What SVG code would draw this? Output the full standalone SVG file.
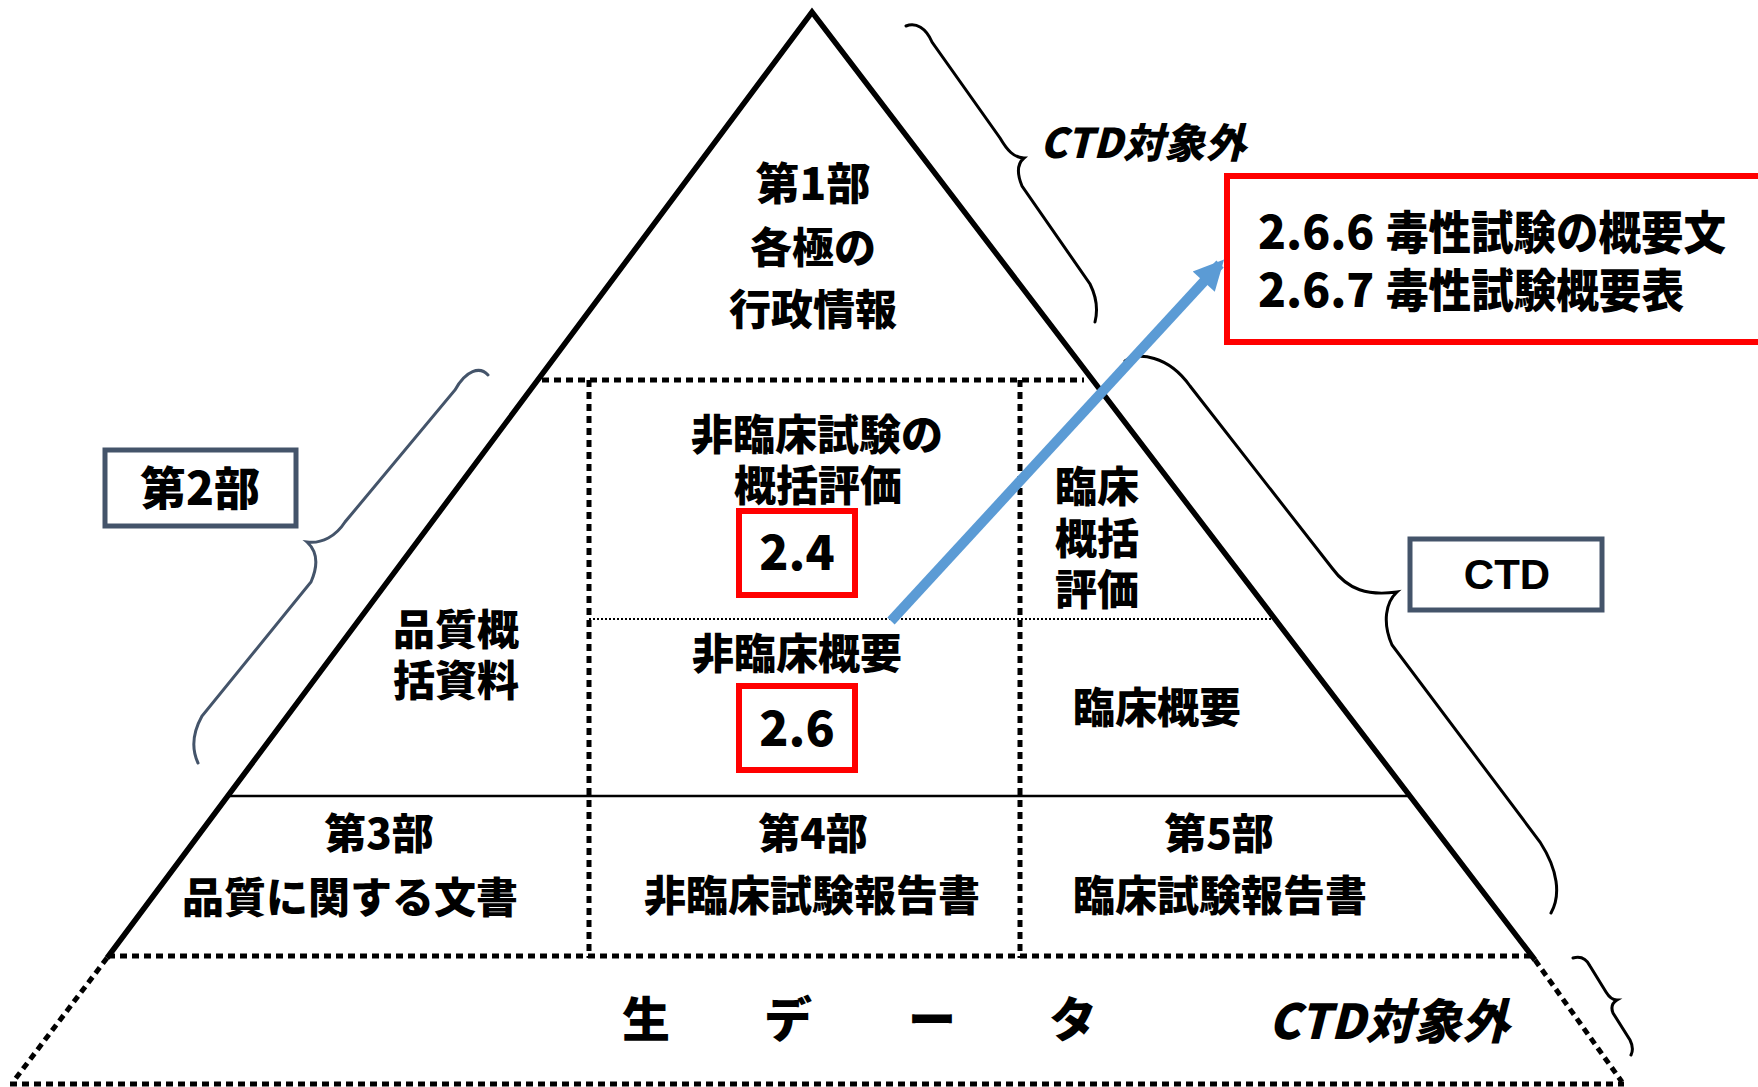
<svg xmlns="http://www.w3.org/2000/svg" width="1758" height="1087" viewBox="0 0 1758 1087">
<style>
.t{font-family:"Noto Sans CJK JP","Noto Sans CJK SC",sans-serif;font-weight:900;fill:#000;text-anchor:middle}
.f42{font-size:42px}
.it{font-style:italic}
.num{font-family:"Noto Sans CJK JP","Liberation Sans",sans-serif;font-weight:900;font-size:48px;text-anchor:middle}
.dot{stroke:#000;stroke-width:5;stroke-dasharray:7 5;fill:none}
.fine{stroke:#000;stroke-width:2;stroke-dasharray:2 2;fill:none}
.edge{stroke:#000;stroke-width:5.5;fill:none;stroke-linejoin:miter}
.brace{stroke:#000;stroke-width:3;fill:none;stroke-linecap:round}
.redbox{fill:none;stroke:#FF0000;stroke-width:6}
.slate{fill:#fff;stroke:#44546A;stroke-width:5}
</style>
<defs>
<marker id="ah" viewBox="0 0 10 10" refX="8" refY="5" markerWidth="3.2" markerHeight="3" orient="auto" markerUnits="strokeWidth">
<path d="M0 0 L10 5 L0 10 Z" fill="#5B9BD5"/>
</marker>
</defs>
<rect width="1758" height="1087" fill="#fff"/>

<g id="pyramid">
<path class="edge" d="M107 958 L812 12 L1535 960"/>
<line class="dot" x1="107" y1="958" x2="13" y2="1082"/>
<line class="dot" x1="1535" y1="960" x2="1622" y2="1082"/>
<line class="dot" x1="10" y1="1084" x2="1624" y2="1084"/>
<line class="dot" x1="108" y1="956" x2="1535" y2="956"/>
<line class="dot" x1="542" y1="380" x2="1084" y2="380"/>
<line class="dot" x1="589" y1="380" x2="589" y2="958"/>
<line class="dot" x1="1020" y1="380" x2="1020" y2="958"/>
<line class="fine" x1="589" y1="619" x2="1276" y2="619"/>
<line x1="230" y1="796" x2="1409" y2="796" stroke="#000" stroke-width="2.5"/>
</g>

<g id="part1">
<text class="t" x="813" y="200" font-size="44">第1部</text>
<text class="t f42" x="813" y="263">各極の</text>
<text class="t f42" x="813" y="325">行政情報</text>
</g>

<g id="part2-quality">
<text class="t f42" x="456" y="645">品質概</text>
<text class="t f42" x="456" y="696">括資料</text>
</g>

<g id="part2-nonclinical-overview">
<text class="t f42" x="817" y="450">非臨床試験の</text>
<text class="t f42" x="818" y="501">概括評価</text>
<rect class="redbox" x="739" y="511" width="116" height="84"/>
<text class="num" x="797" y="570">2.4</text>
</g>

<g id="part2-nonclinical-summary">
<text class="t f42" x="797" y="669">非臨床概要</text>
<rect class="redbox" x="739" y="686" width="116" height="84"/>
<text class="num" x="797" y="746">2.6</text>
</g>

<g id="part2-clinical-overview">
<text class="t f42" x="1097" y="502">臨床</text>
<text class="t f42" x="1097" y="554">概括</text>
<text class="t f42" x="1097" y="605">評価</text>
</g>

<g id="part2-clinical-summary">
<text class="t f42" x="1157" y="723">臨床概要</text>
</g>

<g id="part3">
<text class="t f42" x="379" y="849">第3部</text>
<text class="t f42" x="350" y="913">品質に関する文書</text>
</g>

<g id="part4">
<text class="t f42" x="813" y="849">第4部</text>
<text class="t f42" x="812" y="911">非臨床試験報告書</text>
</g>

<g id="part5">
<text class="t f42" x="1219" y="849">第5部</text>
<text class="t f42" x="1220" y="911">臨床試験報告書</text>
</g>

<g id="rawdata">
<text class="t" font-size="48" x="646" y="1037">生</text>
<text class="t" font-size="48" x="788" y="1037">デ</text>
<text class="t" font-size="48" x="932" y="1037">ー</text>
<text class="t" font-size="48" x="1073" y="1037">タ</text>
<text class="t it" font-size="48" x="1389" y="1039">CTD対象外</text>
</g>

<g id="label-part2">
<rect class="slate" x="105" y="450" width="191" height="76"/>
<text class="t" font-size="46" x="200" y="505">第2部</text>
</g>

<g id="label-ctd">
<rect class="slate" x="1410" y="539" width="192" height="71"/>
<text x="1507" y="589" font-family="Liberation Sans, Arial, sans-serif" font-weight="700" font-size="42" text-anchor="middle">CTD</text>
</g>

<g id="label-out-top">
<text class="t it" font-size="41" x="1143" y="158">CTD対象外</text>
</g>

<g id="callout">
<rect class="redbox" x="1227" y="176" width="540" height="166"/>
<text class="t" font-size="46" x="1258" y="249" style="text-anchor:start">2.6.6 <tspan x="1386" textLength="340" lengthAdjust="spacingAndGlyphs">毒性試験の概要文</tspan></text>
<text class="t" font-size="46" x="1258" y="307" style="text-anchor:start">2.6.7 <tspan x="1386" textLength="298" lengthAdjust="spacingAndGlyphs">毒性試験概要表</tspan></text>
</g>

<g id="connectors">
<path d="M488 375 C480 366 466 370 455 390 L345 522 C336 536 322 544 307 542 C318 552 318 566 311 582 L202 716 C192 734 192 750 198 763" stroke="#44546A" stroke-width="3" fill="none" stroke-linecap="round"/>
<path class="brace" d="M906 26 C916 22 926 28 932 42 L1000 138 C1007 150 1014 158 1024 158 C1017 164 1017 174 1022 186 L1090 284 C1097 298 1098 310 1095 322"/>
<path class="brace" d="M1125 361 C1138 352 1168 355 1190 386 L1332 568 C1348 590 1368 596 1397 592 C1386 602 1382 622 1392 645 L1540 842 C1558 870 1561 895 1551 913"/>
<path class="brace" d="M1573 958 C1580 956 1586 958 1590 966 L1606 992 C1609 997 1613 1000 1617 1000 C1612 1003 1611 1008 1613 1013 L1630 1040 C1633 1046 1633 1051 1631 1055"/>
<line x1="891" y1="621" x2="1220" y2="264" stroke="#5B9BD5" stroke-width="10" marker-end="url(#ah)"/>
</g>
</svg>
